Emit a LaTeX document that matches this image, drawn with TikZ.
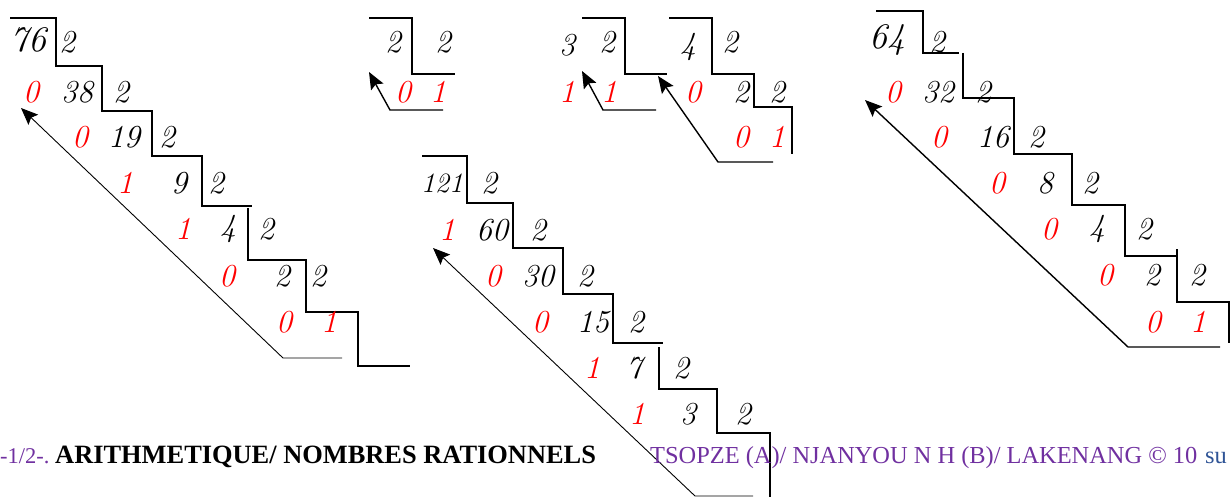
\documentclass[tikz,border=0pt]{standalone}
\usepackage{fontspec}
\usepackage{xcolor}
\usetikzlibrary{arrows.meta}
\newfontfamily\footfont{Liberation Serif}
\definecolor{footpurple}{RGB}{112,48,160}
\definecolor{footblue}{RGB}{47,84,150}

\begin{document}
\begin{tikzpicture}[x=1pt, y=-1pt,
    num/.style={font=\fontsize{32}{32}\selectfont\itshape, inner sep=0pt},
    big/.style={num, font=\fontsize{36}{36}\selectfont\itshape},
    small/.style={num, font=\fontsize{28}{28}\selectfont\itshape},
    rest/.style={num, text=red},
    stair/.style={line width=1.7pt, line join=miter},
    readarr/.style={-{Stealth[length=17pt, width=14pt, inset=3pt]}, line width=0.9pt},
    readarrb/.style={readarr, line width=1.4pt},
    foot/.style={font=\fontsize{24.4}{24.4}\selectfont\footfont, text=footpurple,
                 anchor=base west, inner sep=0pt}
]
\useasboundingbox (0,0) rectangle (1230,497);
\clip (0,0) rectangle (1230,497);

% 76 : 2
\draw[stair] (10,18) -- (56,18) -- (56,66) -- (102,66) -- (102,111) -- (152,111)
    -- (152,156) -- (202,156) -- (202,206) -- (252,206);
\draw[stair] (248,208) -- (248,260) -- (306,260) -- (306,312) -- (358,312)
    -- (358,366) -- (410,366);
\node[big] (A0q) at (28,40) {76}; \node[num] (A0d) at (67,42) {2};
\node[rest] (A1r) at (31,92) {0}; \node[num] (A1q) at (77,92) {38}; \node[num] (A1d) at (121,92) {2};
\node[rest] (A2r) at (80,137) {0}; \node[num] (A2q) at (124,137) {19}; \node[num] (A2d) at (167,137) {2};
\node[rest] (A3r) at (125,183) {1}; \node[num] (A3q) at (179,183) {9}; \node[num] (A3d) at (216,183) {2};
\node[rest] (A4r) at (183,229) {1}; \node[num] (A4q) at (228,229) {4}; \node[num] (A4d) at (266,229) {2};
\node[rest] (A5r) at (227,276) {0}; \node[num] (A5q) at (282,276) {2}; \node[num] (A5d) at (318,276) {2};
\node[rest] (A6r) at (284,322) {0}; \node[rest] (A6q) at (329,322) {1};
\coordinate (A-end) at (342,358); \coordinate (A-foot) at (283,358); \coordinate (A-tip) at (21,108);
\draw[readarr] (A-end) -- (A-foot) -- (A-tip);

% 2 : 2
\draw[stair] (369,18) -- (412,18) -- (412,74) -- (455,74);
\node[num] (B0q) at (393,42) {2}; \node[num] (B0d) at (443,42) {2};
\node[rest] (B1r) at (403,92) {0}; \node[rest] (B1q) at (438,92) {1};
\coordinate (B-end) at (443,110); \coordinate (B-foot) at (390,110); \coordinate (B-tip) at (369,72);
\draw[readarrb] (B-end) -- (B-foot) -- (B-tip);

% 3 : 2
\draw[stair] (582,18) -- (625,18) -- (625,74) -- (667,74);
\node[num] (C0q) at (567,45) {3}; \node[num] (C0d) at (607,42) {2};
\node[rest] (C1r) at (567,92) {1}; \node[rest] (C1q) at (609,92) {1};
\coordinate (C-end) at (656,110); \coordinate (C-foot) at (603,110); \coordinate (C-tip) at (582,71);
\draw[readarrb] (C-end) -- (C-foot) -- (C-tip);

% 4 : 2
\draw[stair] (669,18) -- (712,18) -- (712,74) -- (754,74) -- (754,107) -- (792,107) -- (792,154);
\node[num] (D0q) at (688,47) {4}; \node[num] (D0d) at (730,42) {2};
\node[rest] (D1r) at (693,92) {0}; \node[num] (D1q) at (741,92) {2}; \node[num] (D1d) at (777,92) {2};
\node[rest] (D2r) at (741,137) {0}; \node[rest] (D2q) at (777,137) {1};
\coordinate (D-end) at (773,162); \coordinate (D-foot) at (718,162); \coordinate (D-tip) at (658,76);
\draw[readarrb] (D-end) -- (D-foot) -- (D-tip);

% 121 : 2
\draw[stair] (422,156) -- (467,156) -- (467,203) -- (513,203) -- (513,248) -- (563,248)
    -- (563,294) -- (613,294) -- (613,343) -- (663,343);
\draw[stair] (659,347) -- (659,389) -- (717,389) -- (717,433) -- (770,433) -- (770,497);
\node[small] (E0q) at (442,183) {121}; \node[num] (E0d) at (489,183) {2};
\node[rest] (E1r) at (447,230) {1}; \node[num] (E1q) at (492,230) {60}; \node[num] (E1d) at (538,230) {2};
\node[rest] (E2r) at (493,276) {0}; \node[num] (E2q) at (538,276) {30}; \node[num] (E2d) at (585,276) {2};
\node[rest] (E3r) at (540,322) {0}; \node[num] (E3q) at (593,322) {15}; \node[num] (E3d) at (636,322) {2};
\node[rest] (E4r) at (592,368) {1}; \node[num] (E4q) at (634,368) {7}; \node[num] (E4d) at (681,368) {2};
\node[rest] (E5r) at (637,414) {1}; \node[num] (E5q) at (688,414) {3}; \node[num] (E5d) at (743,414) {2};
\coordinate (E-end) at (753,496); \coordinate (E-foot) at (695,496); \coordinate (E-tip) at (433,248);
\draw[readarr] (E-end) -- (E-foot) -- (E-tip);

% 64 : 2
\draw[stair] (876,11) -- (923,11) -- (923,53) -- (959,53);
\draw[stair] (963,53) -- (963,98) -- (1014,98) -- (1014,154) -- (1072,154) -- (1072,205)
    -- (1125,205) -- (1125,256) -- (1177,256);
\draw[stair] (1177,249) -- (1177,302) -- (1229,302) -- (1229,343);
\node[big] (F0q) at (887,40) {64}; \node[num] (F0d) at (937,42) {2};
\node[rest] (F1r) at (893,92) {0}; \node[num] (F1q) at (938,92) {32}; \node[num] (F1d) at (983,92) {2};
\node[rest] (F2r) at (939,137) {0}; \node[num] (F2q) at (993,137) {16}; \node[num] (F2d) at (1036,137) {2};
\node[rest] (F3r) at (997,183) {0}; \node[num] (F3q) at (1045,183) {8}; \node[num] (F3d) at (1090,183) {2};
\node[rest] (F4r) at (1049,229) {0}; \node[num] (F4q) at (1097,229) {4}; \node[num] (F4d) at (1144,229) {2};
\node[rest] (F5r) at (1105,275) {0}; \node[num] (F5q) at (1152,275) {2}; \node[num] (F5d) at (1197,275) {2};
\node[rest] (F6r) at (1153,322) {0}; \node[rest] (F6q) at (1198,322) {1};
\coordinate (F-end) at (1220,347); \coordinate (F-foot) at (1128,347); \coordinate (F-tip) at (865,100);
\draw[readarrb] (F-end) -- (F-foot) -- (F-tip);

% footer line
\node[foot, font=\fontsize{22.5}{22.5}\selectfont\footfont] (page) at (0,463) {-1/2-.};
\node[foot, font=\fontsize{26.4}{26.4}\selectfont\footfont\bfseries, text=black] (title) at (55,463)
    {ARITHMETIQUE/ NOMBRES RATIONNELS};
\node[foot] (authors) at (650,463) {TSOPZE (A)/ NJANYOU N H (B)/ LAKENANG © 10};
\node[foot, text=footblue] (su) at (1205,463) {su};
\end{tikzpicture}
\end{document}
